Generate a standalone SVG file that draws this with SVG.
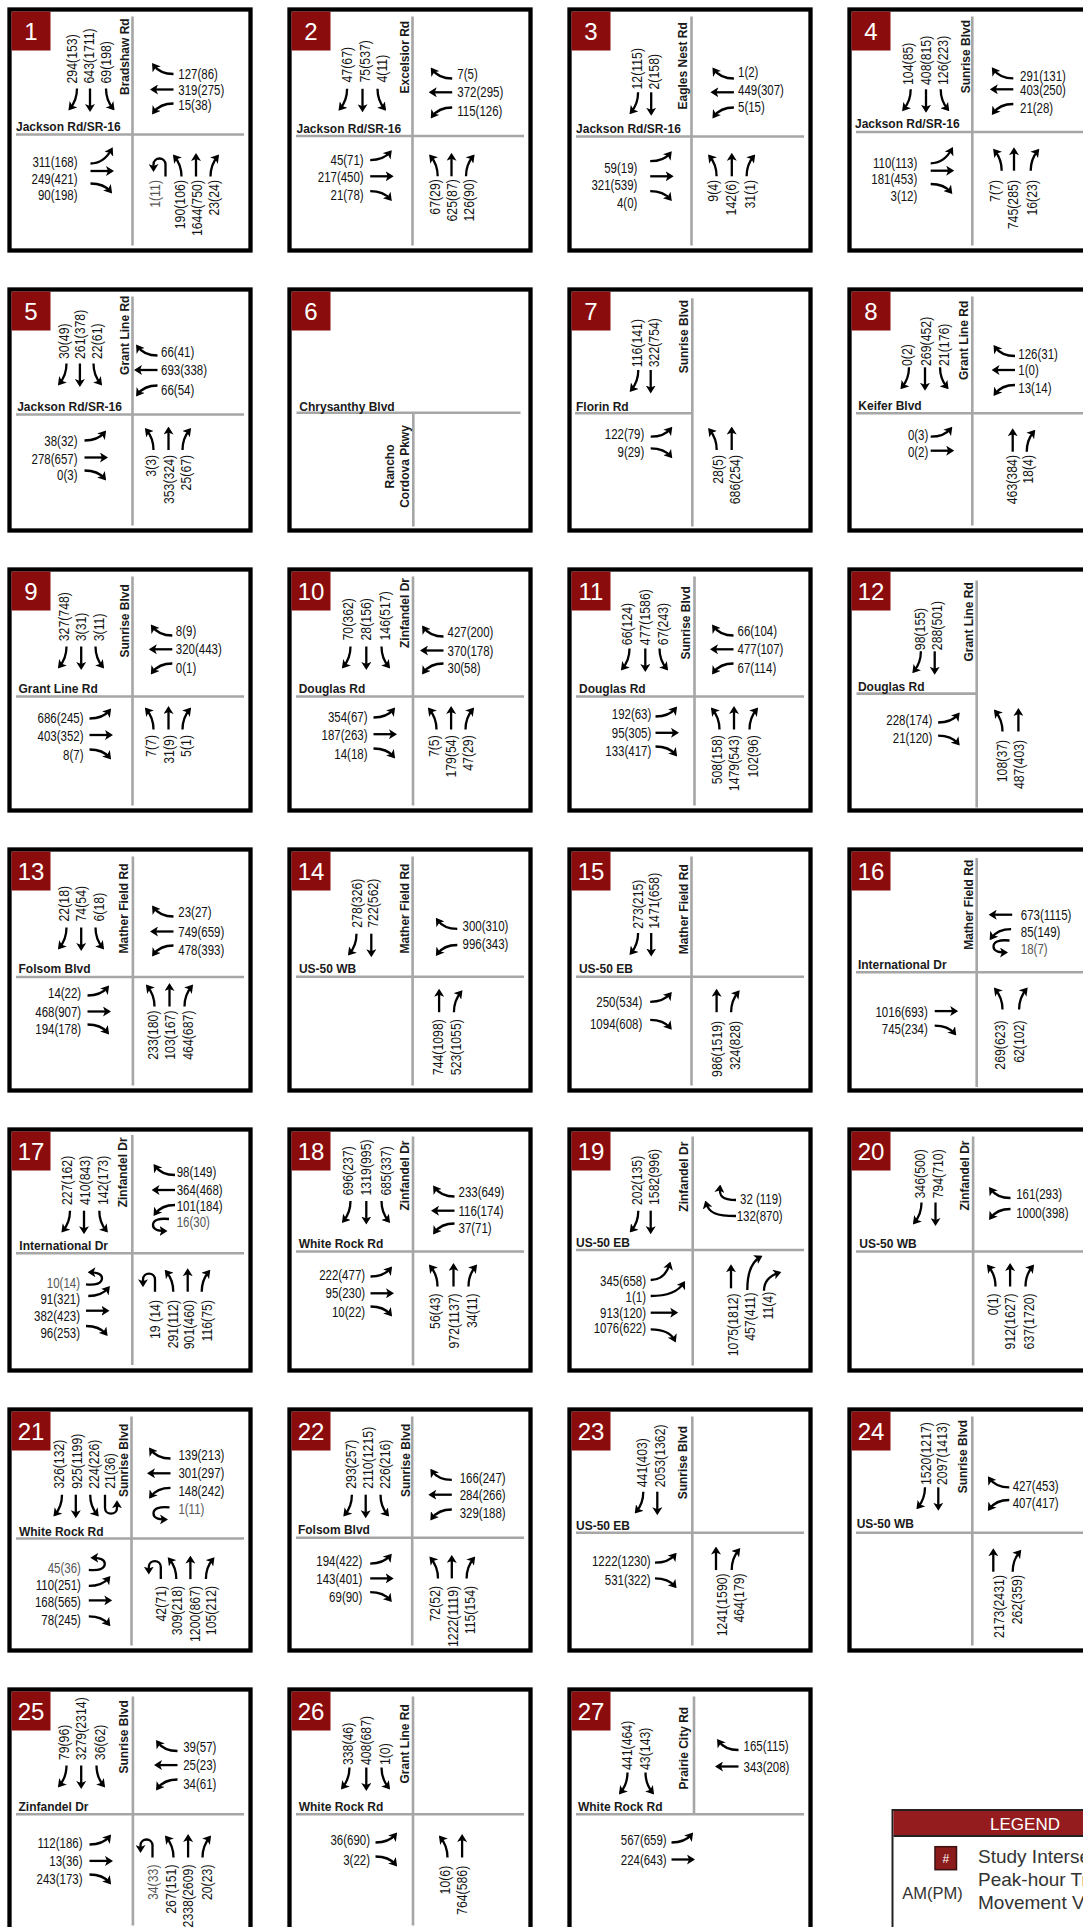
<svg xmlns="http://www.w3.org/2000/svg" xmlns:xlink="http://www.w3.org/1999/xlink" width="1083" height="1927" viewBox="0 0 1083 1927">
<style>
.bd{fill:#fff;stroke:#000;stroke-width:4.3}
.nb{fill:#8b0c0c}
.nt{font-family:'Liberation Sans',Arial,sans-serif;font-size:24px;fill:#fff;text-anchor:middle}
.rd{fill:none;stroke:#a6a6a6;stroke-width:2.6}
.st{font-family:'Liberation Sans',Arial,sans-serif;font-size:12px;font-weight:bold;fill:#1a1a1a}
.v{font-family:'Liberation Sans',Arial,sans-serif;font-size:14px;fill:#111}
.e{text-anchor:end}
.m{text-anchor:middle}
.g{fill:#555}
.a{fill:none;stroke:#000;stroke-width:2.3;marker-end:url(#ah)}
.lg{font-family:'Liberation Sans',Arial,sans-serif;fill:#333}
</style>
<defs>
<marker id="ah" viewBox="0 0 8 10" refX="5.5" refY="5" markerWidth="8" markerHeight="10" markerUnits="userSpaceOnUse" orient="auto"><path d="M0,0L8,5L0,10L2,5Z" fill="#000"/></marker>
<path id="sT" class="a" d="M0,0V21"/>
<path id="sR" class="a" d="M0,0C0,9 -2,14 -7,20"/>
<path id="sL" class="a" d="M0,0C0,9 2,14 7,20"/>
<path id="sU" class="a" d="M0,0V13C0,21 12,21 12,13V8"/>
<path id="wT" class="a" d="M0,0H-21"/>
<path id="wR" class="a" d="M0,0C-9,0 -15,-2 -20,-9"/>
<path id="wL" class="a" d="M0,0C-9,0 -15,2 -20,9"/>
<path id="wU" class="a" d="M0,0C-10,-1 -16,1 -16,6C-16,11 -10,12 -4,12"/>
<path id="eT" class="a" d="M0,0H21"/>
<path id="eL" class="a" d="M0,0C9,0 15,-2 20,-8"/>
<path id="eL2" class="a" d="M0,0C9,0 16,-5 21,-14"/>
<path id="eR" class="a" d="M0,0C9,0 15,2 20,8"/>
<path id="eU" class="a" d="M0,0C10,1 16,-1 16,-6C16,-11 10,-12 4,-12"/>
<path id="nT" class="a" d="M0,0V-21"/>
<path id="nL" class="a" d="M0,0C0,-9 -2,-14 -7,-20"/>
<path id="nR" class="a" d="M0,0C0,-9 2,-14 7,-20"/>
<path id="nU" class="a" d="M0,0V-12C0,-20 -12,-20 -12,-12V-7"/>
</defs>

<g id="n1" transform="translate(9.5,9.5)">
<rect class="bd" width="241" height="241"/><rect class="nb" x="2" y="2" width="39" height="39"/><text class="nt" x="21.5" y="30.5">1</text>
<path class="rd" d="M6.5,125H234.5M123,7V236"/>
<text class="st" x="6.5" y="121.5">Jackson Rd/SR-16</text>
<text class="st" transform="translate(119,85.5)rotate(-90)">Bradshaw Rd</text>
<text class="v" transform="translate(67,74)rotate(-90)scale(.88 1)">294(153)</text>
<text class="v" transform="translate(84,74)rotate(-90)scale(.88 1)">643(1711)</text>
<text class="v" transform="translate(101,74)rotate(-90)scale(.88 1)">69(198)</text>
<text class="v" transform="translate(168.8,69)scale(.82 1)">127(86)</text>
<text class="v" transform="translate(168.8,85)scale(.82 1)">319(275)</text>
<text class="v" transform="translate(168.8,100.5)scale(.82 1)">15(38)</text>
<text class="v e" transform="translate(68,157)scale(.82 1)">311(168)</text>
<text class="v e" transform="translate(68,174)scale(.82 1)">249(421)</text>
<text class="v e" transform="translate(68,190)scale(.82 1)">90(198)</text>
<text class="v e g" transform="translate(150.5,170.5)rotate(-90)scale(.88 1)">1(11)</text>
<text class="v e" transform="translate(175.5,170.5)rotate(-90)scale(.88 1)">190(106)</text>
<text class="v e" transform="translate(192,170.5)rotate(-90)scale(.88 1)">1644(750)</text>
<text class="v e" transform="translate(209,170.5)rotate(-90)scale(.88 1)">23(24)</text>
<g class="mv"><use href="#sR" x="67.5" y="79"/><use href="#sT" x="80.5" y="79"/><use href="#sL" x="96.5" y="79"/>
<use href="#wR" x="164" y="64.5"/><use href="#wT" x="164" y="80"/><use href="#wL" x="164" y="94"/>
<use href="#eL2" x="81" y="154"/><use href="#eT" x="81" y="161.5"/><use href="#eR" x="81" y="174"/>
<use href="#nU" x="156" y="167"/><use href="#nL" x="172" y="167"/><use href="#nT" x="186.5" y="167"/><use href="#nR" x="201" y="167"/></g>
</g>

<g id="n2" transform="translate(289.5,9.5)">
<rect class="bd" width="241" height="241"/><rect class="nb" x="2" y="2" width="39" height="39"/><text class="nt" x="21.5" y="30.5">2</text>
<path class="rd" d="M6.5,126.5H234.5M123,7V236"/>
<text class="st" x="7" y="123">Jackson Rd/SR-16</text>
<text class="st" transform="translate(119.5,84)rotate(-90)">Excelsior Rd</text>
<text class="v" transform="translate(62.6,73)rotate(-90)scale(.88 1)">47(67)</text>
<text class="v" transform="translate(80,73)rotate(-90)scale(.88 1)">75(537)</text>
<text class="v" transform="translate(97,73)rotate(-90)scale(.88 1)">4(11)</text>
<text class="v" transform="translate(167.8,69.5)scale(.82 1)">7(5)</text>
<text class="v" transform="translate(167.8,87.8)scale(.82 1)">372(295)</text>
<text class="v" transform="translate(167.8,106.4)scale(.82 1)">115(126)</text>
<text class="v e" transform="translate(74.2,155.6)scale(.82 1)">45(71)</text>
<text class="v e" transform="translate(74.2,172.8)scale(.82 1)">217(450)</text>
<text class="v e" transform="translate(74.2,190.7)scale(.82 1)">21(78)</text>
<text class="v e" transform="translate(150.5,169.6)rotate(-90)scale(.88 1)">67(29)</text>
<text class="v e" transform="translate(167.7,169.6)rotate(-90)scale(.88 1)">625(87)</text>
<text class="v e" transform="translate(184.9,169.6)rotate(-90)scale(.88 1)">126(90)</text>
<g class="mv"><use href="#sR" x="57.6" y="79.3"/><use href="#sT" x="73" y="79.3"/><use href="#sL" x="88" y="79.3"/>
<use href="#wR" x="162.7" y="69"/><use href="#wT" x="162.7" y="82.8"/><use href="#wL" x="162.7" y="98"/>
<use href="#eL" x="80.7" y="150.6"/><use href="#eT" x="80.7" y="166.8"/><use href="#eR" x="80.7" y="181.6"/>
<use href="#nL" x="148.2" y="166.8"/><use href="#nT" x="162" y="166.8"/><use href="#nR" x="176.5" y="166.8"/></g>
</g>

<g id="n3" transform="translate(569.5,9.5)">
<rect class="bd" width="241" height="241"/><rect class="nb" x="2" y="2" width="39" height="39"/><text class="nt" x="21.5" y="30.5">3</text>
<path class="rd" d="M6.5,127H234.5M122,7V236"/>
<text class="st" x="6.6" y="123.5">Jackson Rd/SR-16</text>
<text class="st" transform="translate(117.5,100)rotate(-90)">Eagles Nest Rd</text>
<text class="v" transform="translate(72.9,80)rotate(-90)scale(.88 1)">12(115)</text>
<text class="v" transform="translate(89.1,80)rotate(-90)scale(.88 1)">2(158)</text>
<text class="v" transform="translate(168.5,67.8)scale(.82 1)">1(2)</text>
<text class="v" transform="translate(168.5,85.7)scale(.82 1)">449(307)</text>
<text class="v" transform="translate(168.5,102.9)scale(.82 1)">5(15)</text>
<text class="v e" transform="translate(67.9,163.5)scale(.82 1)">59(19)</text>
<text class="v e" transform="translate(67.9,180.8)scale(.82 1)">321(539)</text>
<text class="v e" transform="translate(67.9,198)scale(.82 1)">4(0)</text>
<text class="v e" transform="translate(148.7,170.3)rotate(-90)scale(.88 1)">9(4)</text>
<text class="v e" transform="translate(166.6,170.3)rotate(-90)scale(.88 1)">142(6)</text>
<text class="v e" transform="translate(185.5,170.3)rotate(-90)scale(.88 1)">31(1)</text>
<g class="mv"><use href="#sR" x="68.6" y="82.8"/><use href="#sT" x="81.7" y="82.8"/>
<use href="#wR" x="164.4" y="69"/><use href="#wT" x="164.4" y="82.8"/><use href="#wL" x="164.4" y="98"/>
<use href="#eL" x="80.7" y="151.7"/><use href="#eT" x="80.7" y="166.8"/><use href="#eR" x="80.7" y="181.6"/>
<use href="#nL" x="147.1" y="166.8"/><use href="#nT" x="162.3" y="166.8"/><use href="#nR" x="177.1" y="166.8"/></g>
</g>

<g id="n4" transform="translate(849.5,9.5)">
<rect class="bd" width="241" height="241"/><rect class="nb" x="2" y="2" width="39" height="39"/><text class="nt" x="21.5" y="30.5">4</text>
<path class="rd" d="M6.5,122.5H234.5M122.8,7V236"/>
<text class="st" x="5.5" y="118.8">Jackson Rd/SR-16</text>
<text class="st" transform="translate(120.5,83.8)rotate(-90)">Sunrise Blvd</text>
<text class="v" transform="translate(63.8,75.5)rotate(-90)scale(.88 1)">104(85)</text>
<text class="v" transform="translate(81.5,75.5)rotate(-90)scale(.88 1)">408(815)</text>
<text class="v" transform="translate(98.8,75.5)rotate(-90)scale(.88 1)">126(223)</text>
<text class="v" transform="translate(170.5,71.5)scale(.82 1)">291(131)</text>
<text class="v" transform="translate(170.5,85.5)scale(.82 1)">403(250)</text>
<text class="v" transform="translate(170.5,103.8)scale(.82 1)">21(28)</text>
<text class="v e" transform="translate(67.8,158.2)scale(.82 1)">110(113)</text>
<text class="v e" transform="translate(67.8,174.8)scale(.82 1)">181(453)</text>
<text class="v e" transform="translate(67.8,191.5)scale(.82 1)">3(12)</text>
<text class="v e" transform="translate(150.5,170.5)rotate(-90)scale(.88 1)">7(7)</text>
<text class="v e" transform="translate(168.8,170.5)rotate(-90)scale(.88 1)">745(285)</text>
<text class="v e" transform="translate(187.2,170.5)rotate(-90)scale(.88 1)">16(23)</text>
<g class="mv"><use href="#sR" x="61.2" y="79.8"/><use href="#sT" x="76.5" y="79.8"/><use href="#sL" x="91.2" y="79.8"/>
<use href="#wR" x="163.8" y="68.8"/><use href="#wT" x="163.8" y="79.8"/><use href="#wL" x="163.8" y="94.5"/>
<use href="#eL2" x="81.2" y="153.8"/><use href="#eT" x="81.2" y="161.2"/><use href="#eR" x="81.2" y="174.5"/>
<use href="#nL" x="152.2" y="161.2"/><use href="#nT" x="164.5" y="161.2"/><use href="#nR" x="181.2" y="161.2"/></g>
</g>

<g id="n5" transform="translate(9.5,289.5)">
<rect class="bd" width="241" height="241"/><rect class="nb" x="2" y="2" width="39" height="39"/><text class="nt" x="21.5" y="30.5">5</text>
<path class="rd" d="M6.5,125H234.5M123,7V236"/>
<text class="st" x="7.7" y="121">Jackson Rd/SR-16</text>
<text class="st" transform="translate(119.5,85.4)rotate(-90)">Grant Line Rd</text>
<text class="v" transform="translate(59.5,69.5)rotate(-90)scale(.88 1)">30(49)</text>
<text class="v" transform="translate(75.4,69.5)rotate(-90)scale(.88 1)">261(378)</text>
<text class="v" transform="translate(92.6,69.5)rotate(-90)scale(.88 1)">22(61)</text>
<text class="v" transform="translate(151.6,67)scale(.82 1)">66(41)</text>
<text class="v" transform="translate(151.6,85.5)scale(.82 1)">693(338)</text>
<text class="v" transform="translate(151.6,105)scale(.82 1)">66(54)</text>
<text class="v e" transform="translate(68,156)scale(.82 1)">38(32)</text>
<text class="v e" transform="translate(68,174.6)scale(.82 1)">278(657)</text>
<text class="v e" transform="translate(68,190.5)scale(.82 1)">0(3)</text>
<text class="v e" transform="translate(146.8,165.3)rotate(-90)scale(.88 1)">3(3)</text>
<text class="v e" transform="translate(164,165.3)rotate(-90)scale(.88 1)">353(324)</text>
<text class="v e" transform="translate(181.2,165.3)rotate(-90)scale(.88 1)">25(67)</text>
<g class="mv"><use href="#sR" x="57" y="74"/><use href="#sT" x="70.4" y="74"/><use href="#sL" x="84" y="74"/>
<use href="#wR" x="148" y="66"/><use href="#wT" x="148" y="80.5"/><use href="#wL" x="148" y="96"/>
<use href="#eL" x="75" y="151"/><use href="#eT" x="75" y="168"/><use href="#eR" x="75" y="181"/>
<use href="#nL" x="144" y="160.5"/><use href="#nT" x="159" y="160.5"/><use href="#nR" x="173" y="160.5"/></g>
</g>

<g id="n6" transform="translate(289.5,289.5)">
<rect class="bd" width="241" height="241"/><rect class="nb" x="2" y="2" width="39" height="39"/><text class="nt" x="21.5" y="30.5">6</text>
<path class="rd" d="M7,123.2H231M123.8,123.2V237"/>
<text class="st" x="9.8" y="121">Chrysanthy Blvd</text>
<text class="st m" transform="translate(104,177)rotate(-90)">Rancho</text>
<text class="st m" transform="translate(119,177)rotate(-90)">Cordova Pkwy</text>
</g>

<g id="n7" transform="translate(569.5,289.5)">
<rect class="bd" width="241" height="241"/><rect class="nb" x="2" y="2" width="39" height="39"/><text class="nt" x="21.5" y="30.5">7</text>
<path class="rd" d="M5.5,123.8H122.8M122.8,8.8V237"/>
<text class="st" x="6.5" y="121.2">Florin Rd</text>
<text class="st" transform="translate(118.8,83.8)rotate(-90)">Sunrise Blvd</text>
<text class="v" transform="translate(72.2,77.8)rotate(-90)scale(.88 1)">116(141)</text>
<text class="v" transform="translate(89.8,77.8)rotate(-90)scale(.88 1)">322(754)</text>
<text class="v e" transform="translate(74.8,149.5)scale(.82 1)">122(79)</text>
<text class="v e" transform="translate(74.8,167.2)scale(.82 1)">9(29)</text>
<text class="v e" transform="translate(153.8,165.5)rotate(-90)scale(.88 1)">28(5)</text>
<text class="v e" transform="translate(170.5,165.5)rotate(-90)scale(.88 1)">686(254)</text>
<g class="mv"><use href="#sR" x="68.8" y="80.5"/><use href="#sT" x="81.2" y="80.5"/>
<use href="#eL" x="81.2" y="147.2"/><use href="#eR" x="81.2" y="158.8"/>
<use href="#nL" x="147.2" y="160.5"/><use href="#nT" x="162.2" y="160.5"/></g>
</g>

<g id="n8" transform="translate(849.5,289.5)">
<rect class="bd" width="241" height="241"/><rect class="nb" x="2" y="2" width="39" height="39"/><text class="nt" x="21.5" y="30.5">8</text>
<path class="rd" d="M6.5,123.8H234.5M122.8,7V236"/>
<text class="st" x="8.8" y="120.5">Keifer Blvd</text>
<text class="st" transform="translate(118.8,90.5)rotate(-90)">Grant Line Rd</text>
<text class="v" transform="translate(62.8,76.5)rotate(-90)scale(.88 1)">0(2)</text>
<text class="v" transform="translate(81.5,76.5)rotate(-90)scale(.88 1)">269(452)</text>
<text class="v" transform="translate(99.5,76.5)rotate(-90)scale(.88 1)">21(176)</text>
<text class="v" transform="translate(168.8,69.5)scale(.82 1)">126(31)</text>
<text class="v" transform="translate(168.8,85.5)scale(.82 1)">1(0)</text>
<text class="v" transform="translate(168.8,103.8)scale(.82 1)">13(14)</text>
<text class="v e" transform="translate(78.8,150.5)scale(.82 1)">0(3)</text>
<text class="v e" transform="translate(78.8,167.2)scale(.82 1)">0(2)</text>
<text class="v e" transform="translate(167.2,165.5)rotate(-90)scale(.88 1)">463(384)</text>
<text class="v e" transform="translate(183.8,165.5)rotate(-90)scale(.88 1)">18(4)</text>
<g class="mv"><use href="#sR" x="59.5" y="77.8"/><use href="#sT" x="75.5" y="77.8"/><use href="#sL" x="90.5" y="77.8"/>
<use href="#wR" x="165.5" y="66.5"/><use href="#wT" x="165.5" y="80.5"/><use href="#wL" x="165.5" y="95.5"/>
<use href="#eL" x="81.2" y="147.2"/><use href="#eT" x="81.2" y="161.2"/>
<use href="#nT" x="163.2" y="162.2"/><use href="#nR" x="177.2" y="162.2"/></g>
</g>

<g id="n9" transform="translate(9.5,569.5)">
<rect class="bd" width="241" height="241"/><rect class="nb" x="2" y="2" width="39" height="39"/><text class="nt" x="21.5" y="30.5">9</text>
<path class="rd" d="M6.5,127H234.5M123,7V236"/>
<text class="st" x="9" y="123">Grant Line Rd</text>
<text class="st" transform="translate(119,88)rotate(-90)">Sunrise Blvd</text>
<text class="v" transform="translate(59.5,71.8)rotate(-90)scale(.88 1)">327(748)</text>
<text class="v" transform="translate(76.7,71.8)rotate(-90)scale(.88 1)">3(31)</text>
<text class="v" transform="translate(94,71.8)rotate(-90)scale(.88 1)">3(11)</text>
<text class="v" transform="translate(166.3,66.3)scale(.82 1)">8(9)</text>
<text class="v" transform="translate(166.3,84.8)scale(.82 1)">320(443)</text>
<text class="v" transform="translate(166.3,103.2)scale(.82 1)">0(1)</text>
<text class="v e" transform="translate(74,153)scale(.82 1)">686(245)</text>
<text class="v e" transform="translate(74,171.5)scale(.82 1)">403(352)</text>
<text class="v e" transform="translate(74,190)scale(.82 1)">8(7)</text>
<text class="v e" transform="translate(146.8,165.5)rotate(-90)scale(.88 1)">7(7)</text>
<text class="v e" transform="translate(164,165.5)rotate(-90)scale(.88 1)">31(9)</text>
<text class="v e" transform="translate(181.2,165.5)rotate(-90)scale(.88 1)">5(1)</text>
<g class="mv"><use href="#sR" x="57" y="77"/><use href="#sT" x="71.7" y="77"/><use href="#sL" x="86" y="77"/>
<use href="#wR" x="162.8" y="66"/><use href="#wT" x="162.8" y="79.8"/><use href="#wL" x="162.8" y="94"/>
<use href="#eL" x="80" y="149"/><use href="#eT" x="80" y="165.5"/><use href="#eR" x="80" y="180"/>
<use href="#nL" x="144" y="160"/><use href="#nT" x="159" y="160"/><use href="#nR" x="173" y="160"/></g>
</g>

<g id="n10" transform="translate(289.5,569.5)">
<rect class="bd" width="241" height="241"/><rect class="nb" x="2" y="2" width="39" height="39"/><text class="nt" x="21.5" y="30.5">10</text>
<path class="rd" d="M6.5,127H234.5M123.5,7V236"/>
<text class="st" x="9.2" y="123">Douglas Rd</text>
<text class="st" transform="translate(119.8,78.5)rotate(-90)">Zinfandel Dr</text>
<text class="v" transform="translate(63.4,71)rotate(-90)scale(.88 1)">70(362)</text>
<text class="v" transform="translate(81.8,71)rotate(-90)scale(.88 1)">28(156)</text>
<text class="v" transform="translate(100.3,71)rotate(-90)scale(.88 1)">146(517)</text>
<text class="v" transform="translate(158,67.5)scale(.82 1)">427(200)</text>
<text class="v" transform="translate(158,86)scale(.82 1)">370(178)</text>
<text class="v" transform="translate(158,103.2)scale(.82 1)">30(58)</text>
<text class="v e" transform="translate(78,152.3)scale(.82 1)">354(67)</text>
<text class="v e" transform="translate(78,170.7)scale(.82 1)">187(263)</text>
<text class="v e" transform="translate(78,189.1)scale(.82 1)">14(18)</text>
<text class="v e" transform="translate(149.4,165.7)rotate(-90)scale(.88 1)">7(5)</text>
<text class="v e" transform="translate(166.6,165.7)rotate(-90)scale(.88 1)">179(54)</text>
<text class="v e" transform="translate(183.8,165.7)rotate(-90)scale(.88 1)">47(29)</text>
<g class="mv"><use href="#sR" x="61" y="77"/><use href="#sT" x="76.8" y="77"/><use href="#sL" x="92" y="77"/>
<use href="#wR" x="154" y="67"/><use href="#wT" x="154" y="81"/><use href="#wL" x="154" y="94"/>
<use href="#eL" x="84" y="148"/><use href="#eT" x="84" y="164.7"/><use href="#eR" x="84" y="179"/>
<use href="#nL" x="147" y="160"/><use href="#nT" x="161.6" y="160"/><use href="#nR" x="176" y="160"/></g>
</g>

<g id="n11" transform="translate(569.5,569.5)">
<rect class="bd" width="241" height="241"/><rect class="nb" x="2" y="2" width="39" height="39"/><text class="nt" x="21.5" y="30.5">11</text>
<path class="rd" d="M6.5,127H234.5M125,7V236"/>
<text class="st" x="9.5" y="123">Douglas Rd</text>
<text class="st" transform="translate(120.5,90)rotate(-90)">Sunrise Blvd</text>
<text class="v" transform="translate(62.4,75.7)rotate(-90)scale(.88 1)">66(124)</text>
<text class="v" transform="translate(80.8,75.7)rotate(-90)scale(.88 1)">477(1586)</text>
<text class="v" transform="translate(98,75.7)rotate(-90)scale(.88 1)">67(243)</text>
<text class="v" transform="translate(168,66.3)scale(.82 1)">66(104)</text>
<text class="v" transform="translate(168,84.8)scale(.82 1)">477(107)</text>
<text class="v" transform="translate(168,103.2)scale(.82 1)">67(114)</text>
<text class="v e" transform="translate(81.8,149.8)scale(.82 1)">192(63)</text>
<text class="v e" transform="translate(81.8,168.3)scale(.82 1)">95(305)</text>
<text class="v e" transform="translate(81.8,186.7)scale(.82 1)">133(417)</text>
<text class="v e" transform="translate(152.3,165.6)rotate(-90)scale(.88 1)">508(158)</text>
<text class="v e" transform="translate(169.5,165.6)rotate(-90)scale(.88 1)">1479(543)</text>
<text class="v e" transform="translate(188,165.6)rotate(-90)scale(.88 1)">102(96)</text>
<g class="mv"><use href="#sR" x="60" y="79"/><use href="#sT" x="75.8" y="79"/><use href="#sL" x="90" y="79"/>
<use href="#wR" x="164" y="66"/><use href="#wT" x="164" y="79.8"/><use href="#wL" x="164" y="94"/>
<use href="#eL" x="86" y="147"/><use href="#eT" x="86" y="163.3"/><use href="#eR" x="86" y="177"/>
<use href="#nL" x="150" y="160"/><use href="#nT" x="164.5" y="160"/><use href="#nR" x="180" y="160"/></g>
</g>

<g id="n12" transform="translate(849.5,569.5)">
<rect class="bd" width="241" height="241"/><rect class="nb" x="2" y="2" width="39" height="39"/><text class="nt" x="21.5" y="30.5">12</text>
<path class="rd" d="M7,124.1H127.2M127.2,11V238"/>
<text class="st" x="8.4" y="121.5">Douglas Rd</text>
<text class="st" transform="translate(123,92.1)rotate(-90)">Grant Line Rd</text>
<text class="v" transform="translate(75.4,80.7)rotate(-90)scale(.88 1)">98(155)</text>
<text class="v" transform="translate(92.9,80.7)rotate(-90)scale(.88 1)">288(501)</text>
<text class="v e" transform="translate(82.8,155.6)scale(.82 1)">228(174)</text>
<text class="v e" transform="translate(82.8,173.9)scale(.82 1)">21(120)</text>
<text class="v e" transform="translate(157.3,170.3)rotate(-90)scale(.88 1)">108(37)</text>
<text class="v e" transform="translate(174.6,170.3)rotate(-90)scale(.88 1)">487(403)</text>
<g class="mv"><use href="#sR" x="71.4" y="81.8"/><use href="#sT" x="85.2" y="81.8"/>
<use href="#eL" x="88.6" y="153"/><use href="#eR" x="88.6" y="166.1"/>
<use href="#nL" x="153" y="162"/><use href="#nT" x="168.9" y="162"/></g>
</g>

<g id="n13" transform="translate(9.5,849.5)">
<rect class="bd" width="241" height="241"/><rect class="nb" x="2" y="2" width="39" height="39"/><text class="nt" x="21.5" y="30.5">13</text>
<path class="rd" d="M6.5,127.5H234.5M123.4,7V236"/>
<text class="st" x="9" y="123.5">Folsom Blvd</text>
<text class="st" transform="translate(118.4,104)rotate(-90)">Mather Field Rd</text>
<text class="v" transform="translate(59.5,72)rotate(-90)scale(.88 1)">22(18)</text>
<text class="v" transform="translate(76.7,72)rotate(-90)scale(.88 1)">74(54)</text>
<text class="v" transform="translate(94,72)rotate(-90)scale(.88 1)">6(18)</text>
<text class="v" transform="translate(168.8,67)scale(.82 1)">23(27)</text>
<text class="v" transform="translate(168.8,87)scale(.82 1)">749(659)</text>
<text class="v" transform="translate(168.8,105.5)scale(.82 1)">478(393)</text>
<text class="v e" transform="translate(71.7,148.7)scale(.82 1)">14(22)</text>
<text class="v e" transform="translate(71.7,167)scale(.82 1)">468(907)</text>
<text class="v e" transform="translate(71.7,184.3)scale(.82 1)">194(178)</text>
<text class="v e" transform="translate(148,161)rotate(-90)scale(.88 1)">233(180)</text>
<text class="v e" transform="translate(165,161)rotate(-90)scale(.88 1)">103(167)</text>
<text class="v e" transform="translate(183.6,161)rotate(-90)scale(.88 1)">464(687)</text>
<g class="mv"><use href="#sR" x="57" y="78"/><use href="#sT" x="71.7" y="78"/><use href="#sL" x="86" y="78"/>
<use href="#wR" x="164" y="67"/><use href="#wT" x="164" y="82"/><use href="#wL" x="164" y="96"/>
<use href="#eL" x="78" y="146"/><use href="#eT" x="78" y="162"/><use href="#eR" x="78" y="175"/>
<use href="#nL" x="145" y="157"/><use href="#nT" x="160" y="157"/><use href="#nR" x="175" y="157"/></g>
</g>

<g id="n14" transform="translate(289.5,849.5)">
<rect class="bd" width="241" height="241"/><rect class="nb" x="2" y="2" width="39" height="39"/><text class="nt" x="21.5" y="30.5">14</text>
<path class="rd" d="M6.5,127.2H234.5M123.1,7V236"/>
<text class="st" x="9.4" y="123.1">US-50 WB</text>
<text class="st" transform="translate(119.5,104.1)rotate(-90)">Mather Field Rd</text>
<text class="v" transform="translate(72,78.3)rotate(-90)scale(.88 1)">278(326)</text>
<text class="v" transform="translate(88.5,78.3)rotate(-90)scale(.88 1)">722(562)</text>
<text class="v" transform="translate(173,81.6)scale(.82 1)">300(310)</text>
<text class="v" transform="translate(173,99.5)scale(.82 1)">996(343)</text>
<text class="v e" transform="translate(153.9,169.6)rotate(-90)scale(.88 1)">744(1098)</text>
<text class="v e" transform="translate(171.8,169.6)rotate(-90)scale(.88 1)">523(1055)</text>
<g class="mv"><use href="#sR" x="67" y="84.2"/><use href="#sT" x="81.8" y="84.2"/>
<use href="#wR" x="167.8" y="79.3"/><use href="#wL" x="167.8" y="95.5"/>
<use href="#nT" x="149.6" y="162.7"/><use href="#nR" x="164.4" y="162.7"/></g>
</g>

<g id="n15" transform="translate(569.5,849.5)">
<rect class="bd" width="241" height="241"/><rect class="nb" x="2" y="2" width="39" height="39"/><text class="nt" x="21.5" y="30.5">15</text>
<path class="rd" d="M6.5,127.2H234.5M122,7V236"/>
<text class="st" x="9.4" y="123.1">US-50 EB</text>
<text class="st" transform="translate(118.6,104.8)rotate(-90)">Mather Field Rd</text>
<text class="v" transform="translate(73.6,79.3)rotate(-90)scale(.88 1)">273(215)</text>
<text class="v" transform="translate(89.1,79.3)rotate(-90)scale(.88 1)">1471(658)</text>
<text class="v e" transform="translate(72.8,157.3)scale(.82 1)">250(534)</text>
<text class="v e" transform="translate(72.8,179.7)scale(.82 1)">1094(608)</text>
<text class="v e" transform="translate(152.1,171.3)rotate(-90)scale(.88 1)">986(1519)</text>
<text class="v e" transform="translate(170.7,171.3)rotate(-90)scale(.88 1)">324(828)</text>
<g class="mv"><use href="#sR" x="68.6" y="83.5"/><use href="#sT" x="81.7" y="83.5"/>
<use href="#eL" x="80.7" y="152.3"/><use href="#eR" x="80.7" y="170.3"/>
<use href="#nT" x="147.1" y="162.7"/><use href="#nR" x="161.6" y="162.7"/></g>
</g>

<g id="n16" transform="translate(849.5,849.5)">
<rect class="bd" width="241" height="241"/><rect class="nb" x="2" y="2" width="39" height="39"/><text class="nt" x="21.5" y="30.5">16</text>
<path class="rd" d="M6.5,122.7H234.5M127.2,8.4V237.4"/>
<text class="st" x="8.4" y="119.6">International Dr</text>
<text class="st" transform="translate(123.1,100.3)rotate(-90)">Mather Field Rd</text>
<text class="v" transform="translate(171.3,70.2)scale(.82 1)">673(1115)</text>
<text class="v" transform="translate(171.3,87.4)scale(.82 1)">85(149)</text>
<text class="v g" transform="translate(171.3,104.6)scale(.82 1)">18(7)</text>
<text class="v e" transform="translate(78.3,167.6)scale(.82 1)">1016(693)</text>
<text class="v e" transform="translate(78.3,184.9)scale(.82 1)">745(234)</text>
<text class="v e" transform="translate(155.6,170.9)rotate(-90)scale(.88 1)">269(623)</text>
<text class="v e" transform="translate(174.6,170.9)rotate(-90)scale(.88 1)">62(102)</text>
<g class="mv"><use href="#wT" x="162.7" y="65.2"/><use href="#wL" x="161.6" y="79.6"/><use href="#wU" x="160" y="91"/>
<use href="#eT" x="85.2" y="161.6"/><use href="#eR" x="85.2" y="176.1"/>
<use href="#nL" x="153" y="159.9"/><use href="#nR" x="169.6" y="159.9"/></g>
</g>

<g id="n17" transform="translate(9.5,1129.5)">
<rect class="bd" width="241" height="241"/><rect class="nb" x="2" y="2" width="39" height="39"/><text class="nt" x="21.5" y="30.5">17</text>
<path class="rd" d="M6.5,123.8H234.5M122.8,5.5V235.5"/>
<text class="st" x="9.8" y="120.5">International Dr</text>
<text class="st" transform="translate(117.8,77.8)rotate(-90)">Zinfandel Dr</text>
<text class="v" transform="translate(62.8,75.5)rotate(-90)scale(.88 1)">227(162)</text>
<text class="v" transform="translate(80.5,75.5)rotate(-90)scale(.88 1)">410(843)</text>
<text class="v" transform="translate(98.8,75.5)rotate(-90)scale(.88 1)">142(173)</text>
<text class="v" transform="translate(167.2,47.2)scale(.82 1)">98(149)</text>
<text class="v" transform="translate(167.2,65.5)scale(.82 1)">364(468)</text>
<text class="v" transform="translate(167.2,81.5)scale(.82 1)">101(184)</text>
<text class="v g" transform="translate(167.2,97.2)scale(.82 1)">16(30)</text>
<text class="v e g" transform="translate(70.5,158.2)scale(.82 1)">10(14)</text>
<text class="v e" transform="translate(70.5,174.8)scale(.82 1)">91(321)</text>
<text class="v e" transform="translate(70.5,191.5)scale(.82 1)">382(423)</text>
<text class="v e" transform="translate(70.5,208.2)scale(.82 1)">96(253)</text>
<text class="v e" transform="translate(150.5,170.5)rotate(-90)scale(.88 1)">19 (14)</text>
<text class="v e" transform="translate(168.2,170.5)rotate(-90)scale(.88 1)">291(112)</text>
<text class="v e" transform="translate(184.8,170.5)rotate(-90)scale(.88 1)">901(460)</text>
<text class="v e" transform="translate(202.2,170.5)rotate(-90)scale(.88 1)">116(75)</text>
<g class="mv"><use href="#sR" x="60.5" y="81.2"/><use href="#sT" x="74.5" y="81.2"/><use href="#sL" x="89.8" y="81.2"/>
<use href="#wR" x="165.5" y="45.5"/><use href="#wT" x="165.5" y="60.5"/><use href="#wL" x="165.5" y="75.5"/><use href="#wU" x="159.5" y="89.5"/>
<use href="#eU" x="76.5" y="154.8"/><use href="#eL" x="78.8" y="166.5"/><use href="#eT" x="76.5" y="181.2"/><use href="#eR" x="76.5" y="196.5"/>
<use href="#nU" x="145.5" y="162.2"/><use href="#nL" x="163.8" y="162.2"/><use href="#nT" x="178.2" y="162.2"/><use href="#nR" x="192.2" y="162.2"/></g>
</g>

<g id="n18" transform="translate(289.5,1129.5)">
<rect class="bd" width="241" height="241"/><rect class="nb" x="2" y="2" width="39" height="39"/><text class="nt" x="21.5" y="30.5">18</text>
<path class="rd" d="M6.5,122H234.5M123.5,7V236"/>
<text class="st" x="9.2" y="118.5">White Rock Rd</text>
<text class="st" transform="translate(119.8,81)rotate(-90)">Zinfandel Dr</text>
<text class="v" transform="translate(63.4,66)rotate(-90)scale(.88 1)">696(237)</text>
<text class="v" transform="translate(81.8,66)rotate(-90)scale(.88 1)">1319(995)</text>
<text class="v" transform="translate(101.5,66)rotate(-90)scale(.88 1)">685(337)</text>
<text class="v" transform="translate(169,67.8)scale(.82 1)">233(649)</text>
<text class="v" transform="translate(169,86.2)scale(.82 1)">116(174)</text>
<text class="v" transform="translate(169,103.4)scale(.82 1)">37(71)</text>
<text class="v e" transform="translate(75.6,150.4)scale(.82 1)">222(477)</text>
<text class="v e" transform="translate(75.6,168.8)scale(.82 1)">95(230)</text>
<text class="v e" transform="translate(75.6,187.3)scale(.82 1)">10(22)</text>
<text class="v e" transform="translate(150.6,163.8)rotate(-90)scale(.88 1)">56(43)</text>
<text class="v e" transform="translate(169,163.8)rotate(-90)scale(.88 1)">972(1137)</text>
<text class="v e" transform="translate(187.5,163.8)rotate(-90)scale(.88 1)">34(11)</text>
<g class="mv"><use href="#sR" x="61" y="71.5"/><use href="#sT" x="76.8" y="71.5"/><use href="#sL" x="92" y="71.5"/>
<use href="#wR" x="165" y="67"/><use href="#wT" x="165" y="81.2"/><use href="#wL" x="165" y="94"/>
<use href="#eL" x="81" y="147"/><use href="#eT" x="81" y="163.8"/><use href="#eR" x="81" y="177"/>
<use href="#nL" x="148" y="157"/><use href="#nT" x="164" y="157"/><use href="#nR" x="179" y="157"/></g>
</g>

<g id="n19" transform="translate(569.5,1129.5)">
<rect class="bd" width="241" height="241"/><rect class="nb" x="2" y="2" width="39" height="39"/><text class="nt" x="21.5" y="30.5">19</text>
<path class="rd" d="M6.5,120.5H234.5M123.2,7V236"/>
<text class="st" x="6.5" y="117.8">US-50 EB</text>
<text class="st" transform="translate(118.8,82.2)rotate(-90)">Zinfandel Dr</text>
<text class="v" transform="translate(72.8,75.5)rotate(-90)scale(.88 1)">202(135)</text>
<text class="v" transform="translate(89.8,75.5)rotate(-90)scale(.88 1)">1582(996)</text>
<text class="v" transform="translate(170.5,74.8)scale(.82 1)">32 (119)</text>
<text class="v" transform="translate(167.2,91.5)scale(.82 1)">132(870)</text>
<text class="v e" transform="translate(76.5,156.8)scale(.82 1)">345(658)</text>
<text class="v e" transform="translate(76.5,172)scale(.82 1)">1(1)</text>
<text class="v e" transform="translate(76.5,188.2)scale(.82 1)">913(120)</text>
<text class="v e" transform="translate(76.5,203.8)scale(.82 1)">1076(622)</text>
<text class="v e" transform="translate(168.8,163.8)rotate(-90)scale(.88 1)">1075(1812)</text>
<text class="v e" transform="translate(185.5,163)rotate(-90)scale(.88 1)">457(411)</text>
<text class="v e" transform="translate(203.8,162.2)rotate(-90)scale(.88 1)">11(4)</text>
<g class="mv"><use href="#sR" x="68.8" y="81.2"/><use href="#sT" x="81.2" y="81.2"/>
<path class="a" d="M166.5,70.5c-14,0 -17,-4 -16,-13"/>
<path class="a" d="M166.5,86.5c-20,0 -27,-3 -30,-13"/>
<path class="a" d="M81.2,150.5c10,0 16,-6 19,-16"/>
<path class="a" d="M81.2,166.5c18,0 28,-5 33,-13"/>
<path class="a" d="M81.2,183.2h25"/>
<path class="a" d="M81.2,199.8c10,0 20,3 24,11"/>
<path class="a" d="M161.5,158.8V137.2"/>
<path class="a" d="M177.8,160.5c0,-18 4,-28 13,-33"/>
<path class="a" d="M194.5,161.2c0,-10 6,-15 15,-18"/></g>
</g>

<g id="n20" transform="translate(849.5,1129.5)">
<rect class="bd" width="241" height="241"/><rect class="nb" x="2" y="2" width="39" height="39"/><text class="nt" x="21.5" y="30.5">20</text>
<path class="rd" d="M6.5,122H234.5M123.6,7V236"/>
<text class="st" x="9.8" y="118.5">US-50 WB</text>
<text class="st" transform="translate(119.5,81)rotate(-90)">Zinfandel Dr</text>
<text class="v" transform="translate(75.2,69)rotate(-90)scale(.88 1)">346(500)</text>
<text class="v" transform="translate(93.6,69)rotate(-90)scale(.88 1)">794(710)</text>
<text class="v" transform="translate(166.7,69)scale(.82 1)">161(293)</text>
<text class="v" transform="translate(166.7,88.7)scale(.82 1)">1000(398)</text>
<text class="v e" transform="translate(148.4,163.8)rotate(-90)scale(.88 1)">0(1)</text>
<text class="v e" transform="translate(165.6,163.8)rotate(-90)scale(.88 1)">912(1627)</text>
<text class="v e" transform="translate(184,163.8)rotate(-90)scale(.88 1)">637(1720)</text>
<g class="mv"><use href="#sR" x="72" y="73"/><use href="#sT" x="86" y="73"/>
<use href="#wR" x="161" y="68.5"/><use href="#wL" x="161" y="79.5"/>
<use href="#nL" x="146" y="157"/><use href="#nT" x="160.6" y="157"/><use href="#nR" x="176" y="157"/></g>
</g>

<g id="n21" transform="translate(9.5,1409.5)">
<rect class="bd" width="241" height="241"/><rect class="nb" x="2" y="2" width="39" height="39"/><text class="nt" x="21.5" y="30.5">21</text>
<path class="rd" d="M6.5,129H234.5M122,7V236"/>
<text class="st" x="9.4" y="126">White Rock Rd</text>
<text class="st" transform="translate(118.6,87.6)rotate(-90)">Sunrise Blvd</text>
<text class="v" transform="translate(54.7,79.3)rotate(-90)scale(.88 1)">326(132)</text>
<text class="v" transform="translate(72,79.3)rotate(-90)scale(.88 1)">925(1199)</text>
<text class="v" transform="translate(89.2,79.3)rotate(-90)scale(.88 1)">224(226)</text>
<text class="v" transform="translate(105,79.3)rotate(-90)scale(.88 1)">21(36)</text>
<text class="v" transform="translate(168.9,50.6)scale(.82 1)">139(213)</text>
<text class="v" transform="translate(168.9,68.8)scale(.82 1)">301(297)</text>
<text class="v" transform="translate(168.9,86.8)scale(.82 1)">148(242)</text>
<text class="v g" transform="translate(168.9,104)scale(.82 1)">1(11)</text>
<text class="v e g" transform="translate(71.4,163.5)scale(.82 1)">45(36)</text>
<text class="v e" transform="translate(71.4,180.8)scale(.82 1)">110(251)</text>
<text class="v e" transform="translate(71.4,197)scale(.82 1)">168(565)</text>
<text class="v e" transform="translate(71.4,215.2)scale(.82 1)">78(245)</text>
<text class="v e" transform="translate(156.7,176.4)rotate(-90)scale(.88 1)">42(71)</text>
<text class="v e" transform="translate(172.8,176.4)rotate(-90)scale(.88 1)">309(218)</text>
<text class="v e" transform="translate(190,176.4)rotate(-90)scale(.88 1)">1200(867)</text>
<text class="v e" transform="translate(206.2,176.4)rotate(-90)scale(.88 1)">105(212)</text>
<g class="mv"><use href="#sR" x="52.5" y="85.2"/><use href="#sT" x="66.3" y="85.2"/><use href="#sL" x="80.7" y="85.2"/><use href="#sU" x="95.5" y="85.2"/>
<use href="#wR" x="161" y="49"/><use href="#wT" x="161" y="63.8"/><use href="#wL" x="161" y="78.3"/><use href="#wU" x="160" y="97.9"/>
<use href="#eU" x="79.3" y="160.3"/><use href="#eL" x="79.3" y="176.4"/><use href="#eT" x="79.3" y="190.9"/><use href="#eR" x="79.3" y="206.8"/>
<use href="#nU" x="151.3" y="169.6"/><use href="#nL" x="166.8" y="169.6"/><use href="#nT" x="180.9" y="169.6"/><use href="#nR" x="196.4" y="169.6"/></g>
</g>

<g id="n22" transform="translate(289.5,1409.5)">
<rect class="bd" width="241" height="241"/><rect class="nb" x="2" y="2" width="39" height="39"/><text class="nt" x="21.5" y="30.5">22</text>
<path class="rd" d="M6.5,128.2H234.5M122.7,7V236"/>
<text class="st" x="8.4" y="124.8">Folsom Blvd</text>
<text class="st" transform="translate(120.3,87.6)rotate(-90)">Sunrise Blvd</text>
<text class="v" transform="translate(66.7,79.3)rotate(-90)scale(.88 1)">293(257)</text>
<text class="v" transform="translate(83.3,79.3)rotate(-90)scale(.88 1)">2110(1215)</text>
<text class="v" transform="translate(100.5,79.3)rotate(-90)scale(.88 1)">226(216)</text>
<text class="v" transform="translate(170.2,73)scale(.82 1)">166(247)</text>
<text class="v" transform="translate(170.2,90.2)scale(.82 1)">284(266)</text>
<text class="v" transform="translate(170.2,108.4)scale(.82 1)">329(188)</text>
<text class="v e" transform="translate(72.8,156.7)scale(.82 1)">194(422)</text>
<text class="v e" transform="translate(72.8,174.6)scale(.82 1)">143(401)</text>
<text class="v e" transform="translate(72.8,192.5)scale(.82 1)">69(90)</text>
<text class="v e" transform="translate(150.1,176.4)rotate(-90)scale(.88 1)">72(52)</text>
<text class="v e" transform="translate(168.3,176.4)rotate(-90)scale(.88 1)">1222(1119)</text>
<text class="v e" transform="translate(185.5,176.4)rotate(-90)scale(.88 1)">115(154)</text>
<g class="mv"><use href="#sR" x="62.4" y="85.2"/><use href="#sT" x="76.2" y="85.2"/><use href="#sL" x="91" y="85.2"/>
<use href="#wR" x="162.3" y="70.4"/><use href="#wT" x="162.3" y="85.2"/><use href="#wL" x="162.3" y="100"/>
<use href="#eL" x="80.7" y="154.1"/><use href="#eT" x="80.7" y="168.9"/><use href="#eR" x="80.7" y="182.6"/>
<use href="#nL" x="148.5" y="168.9"/><use href="#nT" x="162.3" y="168.9"/><use href="#nR" x="177.1" y="168.9"/></g>
</g>

<g id="n23" transform="translate(569.5,1409.5)">
<rect class="bd" width="241" height="241"/><rect class="nb" x="2" y="2" width="39" height="39"/><text class="nt" x="21.5" y="30.5">23</text>
<path class="rd" d="M6.5,123.2H234.5M122.8,7V236"/>
<text class="st" x="6.5" y="120.5">US-50 EB</text>
<text class="st" transform="translate(117.8,89.8)rotate(-90)">Sunrise Blvd</text>
<text class="v" transform="translate(77.2,77.8)rotate(-90)scale(.88 1)">441(403)</text>
<text class="v" transform="translate(95.5,77.8)rotate(-90)scale(.88 1)">2053(1362)</text>
<text class="v e" transform="translate(81.2,156.2)scale(.82 1)">1222(1230)</text>
<text class="v e" transform="translate(81.2,175.5)scale(.82 1)">531(322)</text>
<text class="v e" transform="translate(157.2,163.8)rotate(-90)scale(.88 1)">1241(1590)</text>
<text class="v e" transform="translate(174.8,163.8)rotate(-90)scale(.88 1)">464(179)</text>
<g class="mv"><use href="#sR" x="73.8" y="82.2"/><use href="#sT" x="87.8" y="82.2"/>
<use href="#eL" x="85.5" y="153.2"/><use href="#eR" x="85.5" y="168.8"/>
<use href="#nT" x="146.5" y="160.5"/><use href="#nR" x="162.2" y="160.5"/></g>
</g>

<g id="n24" transform="translate(849.5,1409.5)">
<rect class="bd" width="241" height="241"/><rect class="nb" x="2" y="2" width="39" height="39"/><text class="nt" x="21.5" y="30.5">24</text>
<path class="rd" d="M6.5,123.2H234.5M122.8,7V236"/>
<text class="st" x="7.2" y="118.8">US-50 WB</text>
<text class="st" transform="translate(117.8,83.8)rotate(-90)">Sunrise Blvd</text>
<text class="v" transform="translate(81.5,75.5)rotate(-90)scale(.88 1)">1520(1217)</text>
<text class="v" transform="translate(97.2,75.5)rotate(-90)scale(.88 1)">2097(1413)</text>
<text class="v" transform="translate(163.2,81.5)scale(.82 1)">427(453)</text>
<text class="v" transform="translate(163.2,98.2)scale(.82 1)">407(417)</text>
<text class="v e" transform="translate(154.8,165.5)rotate(-90)scale(.88 1)">2173(2431)</text>
<text class="v e" transform="translate(172.2,165.5)rotate(-90)scale(.88 1)">262(359)</text>
<g class="mv"><use href="#sR" x="75.5" y="77.8"/><use href="#sT" x="88.8" y="77.8"/>
<use href="#wR" x="159.8" y="77.8"/><use href="#wL" x="159.8" y="90.5"/>
<use href="#nT" x="143.8" y="162.2"/><use href="#nR" x="163.2" y="162.2"/></g>
</g>

<g id="n25" transform="translate(9.5,1689.5)">
<rect class="bd" width="241" height="241"/><rect class="nb" x="2" y="2" width="39" height="39"/><text class="nt" x="21.5" y="30.5">25</text>
<path class="rd" d="M6.5,124.8H234.5M123.4,7V236"/>
<text class="st" x="9" y="121">Zinfandel Dr</text>
<text class="st" transform="translate(118.4,84)rotate(-90)">Sunrise Blvd</text>
<text class="v" transform="translate(59.5,70.7)rotate(-90)scale(.88 1)">79(96)</text>
<text class="v" transform="translate(76.7,70.7)rotate(-90)scale(.88 1)">3279(2314)</text>
<text class="v" transform="translate(95,70.7)rotate(-90)scale(.88 1)">36(62)</text>
<text class="v" transform="translate(173.7,62.2)scale(.82 1)">39(57)</text>
<text class="v" transform="translate(173.7,80.6)scale(.82 1)">25(23)</text>
<text class="v" transform="translate(173.7,99)scale(.82 1)">34(61)</text>
<text class="v e" transform="translate(73,158)scale(.82 1)">112(186)</text>
<text class="v e" transform="translate(73,176.4)scale(.82 1)">13(36)</text>
<text class="v e" transform="translate(73,194.8)scale(.82 1)">243(173)</text>
<text class="v e g" transform="translate(148,175)rotate(-90)scale(.88 1)">34(33)</text>
<text class="v e" transform="translate(166.3,175)rotate(-90)scale(.88 1)">267(151)</text>
<text class="v e" transform="translate(183.6,175)rotate(-90)scale(.88 1)">2338(2609)</text>
<text class="v e" transform="translate(202,175)rotate(-90)scale(.88 1)">20(23)</text>
<g class="mv"><use href="#sR" x="57" y="76"/><use href="#sT" x="71.7" y="76"/><use href="#sL" x="87" y="76"/>
<use href="#wR" x="168" y="61.5"/><use href="#wT" x="168" y="75.6"/><use href="#wL" x="168" y="90"/>
<use href="#eL" x="80" y="155"/><use href="#eT" x="80" y="171.4"/><use href="#eR" x="80" y="185"/>
<use href="#nU" x="143" y="168"/><use href="#nL" x="164" y="168"/><use href="#nT" x="178.6" y="168"/><use href="#nR" x="193" y="168"/></g>
</g>

<g id="n26" transform="translate(289.5,1689.5)">
<rect class="bd" width="241" height="241"/><rect class="nb" x="2" y="2" width="39" height="39"/><text class="nt" x="21.5" y="30.5">26</text>
<path class="rd" d="M6.5,124.8H234.5M123.5,7V236"/>
<text class="st" x="9.2" y="121">White Rock Rd</text>
<text class="st" transform="translate(119.8,94)rotate(-90)">Grant Line Rd</text>
<text class="v" transform="translate(63.4,75.6)rotate(-90)scale(.88 1)">338(46)</text>
<text class="v" transform="translate(81.8,75.6)rotate(-90)scale(.88 1)">408(687)</text>
<text class="v" transform="translate(100.3,75.6)rotate(-90)scale(.88 1)">1(0)</text>
<text class="v e" transform="translate(80.5,155.6)scale(.82 1)">36(690)</text>
<text class="v e" transform="translate(80.5,175)scale(.82 1)">3(22)</text>
<text class="v e" transform="translate(160.4,176.2)rotate(-90)scale(.88 1)">10(6)</text>
<text class="v e" transform="translate(177.6,176.2)rotate(-90)scale(.88 1)">764(586)</text>
<g class="mv"><use href="#sR" x="60" y="78"/><use href="#sT" x="76.8" y="78"/><use href="#sL" x="92" y="78"/>
<use href="#eL" x="86" y="153"/><use href="#eR" x="86" y="167"/>
<use href="#nL" x="158" y="168"/><use href="#nT" x="172.6" y="168"/></g>
</g>

<g id="n27" transform="translate(569.5,1689.5)">
<rect class="bd" width="241" height="241"/><rect class="nb" x="2" y="2" width="39" height="39"/><text class="nt" x="21.5" y="30.5">27</text>
<path class="rd" d="M6.5,124.8H234.5M124.5,7V124.8"/>
<text class="st" x="8.4" y="121">White Rock Rd</text>
<text class="st" transform="translate(118.4,100)rotate(-90)">Prairie City Rd</text>
<text class="v" transform="translate(62.4,80.5)rotate(-90)scale(.88 1)">441(464)</text>
<text class="v" transform="translate(80.8,80.5)rotate(-90)scale(.88 1)">43(143)</text>
<text class="v" transform="translate(174,61.2)scale(.82 1)">165(115)</text>
<text class="v" transform="translate(174,82)scale(.82 1)">343(208)</text>
<text class="v e" transform="translate(97.2,155.6)scale(.82 1)">567(659)</text>
<text class="v e" transform="translate(97.2,175)scale(.82 1)">224(643)</text>
<g class="mv"><use href="#sR" x="58" y="83"/><use href="#sL" x="76" y="83"/>
<use href="#wR" x="169" y="60.5"/><use href="#wT" x="169" y="77"/>
<use href="#eL" x="102" y="153"/><use href="#eT" x="102" y="170"/></g>
</g>

<g id="legend">
<rect x="892.5" y="1810" width="200" height="130" fill="#fff" stroke="#222" stroke-width="2"/>
<rect x="893.5" y="1811" width="200" height="24.5" fill="#941b1e"/>
<line x1="893.5" y1="1836" x2="1092" y2="1836" stroke="#222" stroke-width="2"/>
<text class="lg m" x="1025" y="1829.5" font-size="17" style="fill:#fff">LEGEND</text>
<rect x="935" y="1846.7" width="21.5" height="23" fill="#8b1a1a" stroke="#3a1010" stroke-width="1.5"/>
<text class="lg m" x="945.8" y="1863" font-size="12" style="fill:#fff">#</text>
<text class="lg" x="978" y="1863.3" font-size="19">Study Intersection</text>
<text class="lg m" x="932.5" y="1899.3" font-size="16.5">AM(PM)</text>
<text class="lg" x="978" y="1886" font-size="19">Peak-hour Traffic</text>
<text class="lg" x="978" y="1909.3" font-size="19">Movement Volumes</text>
</g>
</svg>
